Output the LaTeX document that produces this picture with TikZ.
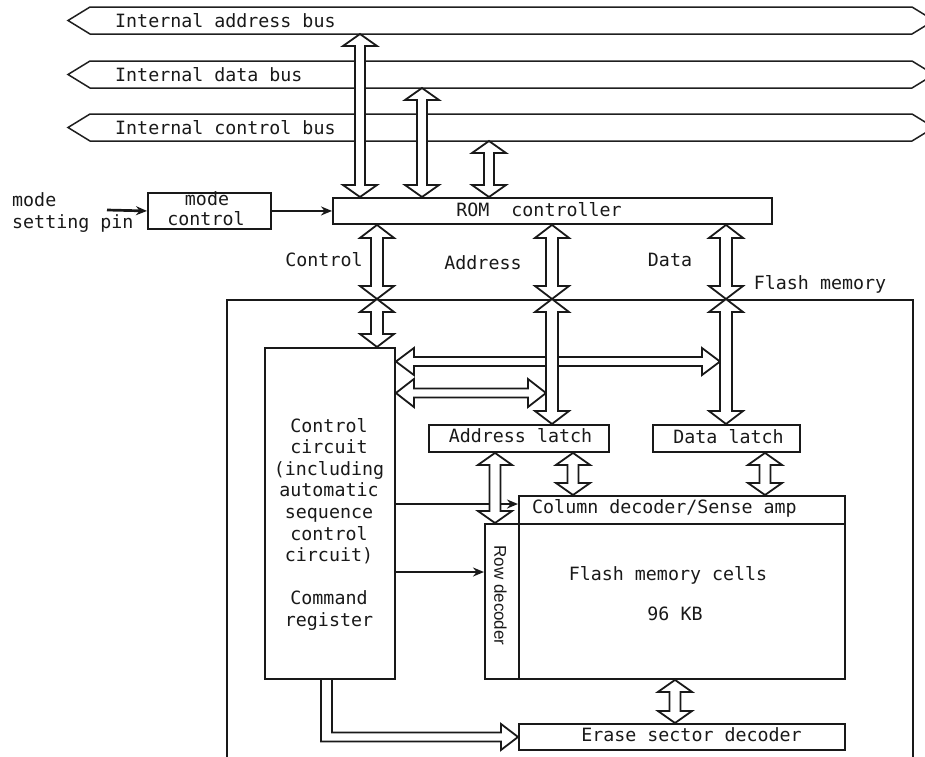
\documentclass[tikz,border=0pt]{standalone}
\usepackage{fontspec}
\setmonofont{DejaVu Sans Mono}
\newfontfamily\rowfont{Liberation Sans}
\usetikzlibrary{calc,arrows.meta}
\newcommand\lblfont{\ttfamily\fontsize{18.3pt}{21.6pt}\selectfont}
\tikzset{
  box/.style={draw=black!90, line width=1.9pt, rectangle, inner sep=0pt, anchor=north west},
  hollow/.style={draw=black!90, fill=white, line width=1.8pt, line join=miter},
  bus/.style={draw=black!88, line width=1.5pt, line join=miter},
  lbl/.style={inner sep=0pt, font=\lblfont, text=black!90},
  thinarrow/.style={draw=black!90, line width=2.7pt, -{Stealth[length=11pt,width=9pt]}},
}
% vertical double-headed hollow arrow: shaft half, head half, head length, top point, bottom point
\newcommand\vdbl[5]{%
  \draw[hollow] let \p1=#4, \p2=#5 in
   (\x1,\y1) -- (\x1+#2pt,\y1-#3pt) -- (\x1+#1pt,\y1-#3pt) -- (\x1+#1pt,\y2+#3pt)
   -- (\x1+#2pt,\y2+#3pt) -- (\x1,\y2) -- (\x1-#2pt,\y2+#3pt) -- (\x1-#1pt,\y2+#3pt)
   -- (\x1-#1pt,\y1-#3pt) -- (\x1-#2pt,\y1-#3pt) -- cycle;}
% horizontal double-headed hollow arrow: shaft half, head half, head length, left point, right point
\newcommand\hdbl[5]{%
  \draw[hollow] let \p1=#4, \p2=#5 in
   (\x1,\y1) -- (\x1+#3pt,\y1+#2pt) -- (\x1+#3pt,\y1+#1pt) -- (\x2-#3pt,\y1+#1pt)
   -- (\x2-#3pt,\y1+#2pt) -- (\x2,\y1) -- (\x2-#3pt,\y1-#2pt) -- (\x2-#3pt,\y1-#1pt)
   -- (\x1+#3pt,\y1-#1pt) -- (\x1+#3pt,\y1-#2pt) -- cycle;}
\begin{document}
\begin{tikzpicture}[x=1pt,y=-1pt]
\useasboundingbox (0,0) rectangle (925,756);
% ---------- buses
\draw[bus] (68,20.5) -- (90,7) -- (912,7) -- (934,20.5) -- (912,34) -- (90,34) -- cycle;
\draw[bus] (68,74.5) -- (90,61) -- (912,61) -- (934,74.5) -- (912,88) -- (90,88) -- cycle;
\draw[bus] (68,127.5) -- (90,114) -- (912,114) -- (934,127.5) -- (912,141) -- (90,141) -- cycle;
\coordinate (abusB) at (0,34);
\coordinate (dbusB) at (0,88);
\coordinate (cbusB) at (0,141);
% x positions of vertical arrows
\coordinate (xA) at (360,0);
\coordinate (xB) at (422,0);
\coordinate (xC) at (489,0);
\coordinate (xctl) at (377,0);
\coordinate (xadr) at (552,0);
\coordinate (xdat) at (726,0);
\coordinate (xal1) at (495,0);
\coordinate (xal2) at (573,0);
\coordinate (xdl) at (765,0);
\coordinate (xer) at (675,0);
\coordinate (xL) at (326.5,0);
\coordinate (hy1) at (0,361.5);
\coordinate (hy2) at (0,393);
\coordinate (ty1) at (0,504);
\coordinate (ty2) at (0,572);
\coordinate (pin) at (107,210);
% ---------- boxes
\node[box,minimum width=686pt,minimum height=480pt] (flash) at (226,299) {};
\node[box,minimum width=123pt,minimum height=36pt] (modec) at (147,192) {};
\node[box,minimum width=439pt,minimum height=26pt] (rom) at (332,197) {};
\node[box,minimum width=130pt,minimum height=331pt] (ctrl) at (264,347) {};
\node[box,minimum width=180pt,minimum height=27pt] (alatch) at (428,424) {};
\node[box,minimum width=147pt,minimum height=27pt] (dlatch) at (652,424) {};
\node[box,minimum width=326pt,minimum height=28pt] (coldec) at (518,495) {};
\node[box,minimum width=326pt,minimum height=155pt] (cells) at (518,523) {};
\node[box,minimum width=34pt,minimum height=155pt] (rowdec) at (484,523) {};
\node[box,minimum width=326pt,minimum height=26pt] (erase) at (518,723) {};
% ---------- thin arrows
\draw[thinarrow] (pin) -- (modec.west);
\draw[thinarrow] (modec.east) -- (rom.west);
\draw[thinarrow] (ctrl.east |- ty1) -- (coldec.west |- ty1);
\draw[thinarrow] (ctrl.east |- ty2) -- (rowdec.west |- ty2);
% ---------- horizontal hollow arrows
\hdbl{4.5}{13.5}{18}{(ctrl.east |- hy1)}{($(xdat |- hy1)+(-6pt,0pt)$)}
\hdbl{4.5}{14}{18}{(ctrl.east |- hy2)}{($(xadr |- hy2)+(-6pt,0pt)$)}
% ---------- vertical hollow arrows: buses <-> ROM controller
\vdbl{5}{17}{12}{(abusB -| xA)}{(rom.north -| xA)}
\vdbl{5}{17}{12}{(dbusB -| xB)}{(rom.north -| xB)}
\vdbl{5}{17}{12}{(cbusB -| xC)}{(rom.north -| xC)}
% ROM controller <-> flash memory
\vdbl{6}{17}{13}{(rom.south -| xctl)}{(flash.north -| xctl)}
\vdbl{6}{17}{13}{(flash.north -| xctl)}{(ctrl.north -| xctl)}
\vdbl{6}{17}{13}{(rom.south -| xadr)}{(flash.north -| xadr)}
\vdbl{6}{17}{13}{(flash.north -| xadr)}{(alatch.north -| xadr)}
\vdbl{6}{17}{13}{(rom.south -| xdat)}{(flash.north -| xdat)}
\vdbl{6}{17}{13}{(flash.north -| xdat)}{(dlatch.north -| xdat)}
% latches -> decoders
\vdbl{5.5}{17}{12}{(alatch.south -| xal1)}{(rowdec.north -| xal1)}
\vdbl{5.5}{17}{12}{(alatch.south -| xal2)}{(coldec.north -| xal2)}
\vdbl{5.5}{17}{12}{(dlatch.south -| xdl)}{(coldec.north -| xdl)}
\vdbl{5.5}{17}{12}{(cells.south -| xer)}{(erase.north -| xer)}
% L-shaped arrow control circuit -> erase sector decoder
\draw[hollow,fill=none] let \p1=(xL |- ctrl.south), \p2=(erase.west) in
  (\x1-5.5pt,\y1) -- (\x1-5.5pt,\y2-4.5pt) -- (\x2-17pt,\y2-4.5pt) -- (\x2-17pt,\y2-13pt)
  -- (\x2,\y2) -- (\x2-17pt,\y2+13pt) -- (\x2-17pt,\y2+4.5pt) -- (\x1+5.5pt,\y2+4.5pt) -- (\x1+5.5pt,\y1);
% ---------- labels
\node[lbl,anchor=base west] (abus) at (115,27) {Internal address bus};
\node[lbl,anchor=base west] (dbus) at (115,81) {Internal data bus};
\node[lbl,anchor=base west] (cbus) at (115,134) {Internal control bus};
\node[lbl,anchor=base west] (pin1) at (12,206) {mode};
\node[lbl,anchor=base west] (pin2) at (12,228) {setting pin};
\node[lbl,anchor=base] (mc1) at (207,205) {mode};
\node[lbl,anchor=base] (mc2) at (206,225) {control};
\node[lbl,anchor=base] (romt) at (539,216) {ROM\ \ controller};
\node[lbl,anchor=base] (lctl) at (324,266) {Control};
\node[lbl,anchor=base] (ladr) at (483,269) {Address};
\node[lbl,anchor=base] (ldat) at (670,266) {Data};
\node[lbl,anchor=base] (lflash) at (820,289) {Flash memory};
\node[lbl,anchor=base] (cc1) at (329,432) {Control};
\node[lbl,anchor=base] (cc2) at (329,453.6) {circuit};
\node[lbl,anchor=base] (cc3) at (329,475.2) {(including};
\node[lbl,anchor=base] (cc4) at (329,496.8) {automatic};
\node[lbl,anchor=base] (cc5) at (329,518.4) {sequence};
\node[lbl,anchor=base] (cc6) at (329,540) {control};
\node[lbl,anchor=base] (cc7) at (329,561.6) {circuit)};
\node[lbl,anchor=base] (cc8) at (329,604.8) {Command};
\node[lbl,anchor=base] (cc9) at (329,626.4) {register};
\node[lbl,anchor=base] (alt) at (520.5,442) {Address latch};
\node[lbl,anchor=base] (dlt) at (728.5,443) {Data latch};
\node[lbl,anchor=base west] (cdt) at (532,513) {Column decoder/Sense amp};
\node[lbl,anchor=base] (cellt) at (668,580) {Flash memory cells};
\node[lbl,anchor=base] (kbt) at (675,620) {96 KB};
\node[lbl,anchor=base] (ert) at (691.5,741) {Erase sector decoder};
\node[inner sep=0pt, rotate=-90, text=black!90, font=\rowfont\fontsize{17pt}{17pt}\selectfont] (rowt) at (500.5,595.5) {Row decoder};
\end{tikzpicture}
\end{document}
